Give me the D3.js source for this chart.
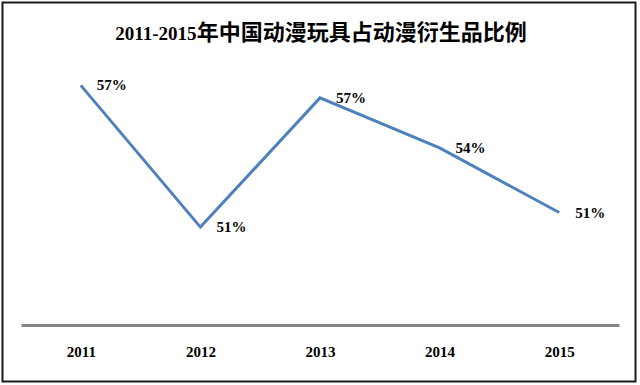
<!DOCTYPE html>
<html>
<head>
<meta charset="utf-8">
<script src="https://cdn.jsdelivr.net/npm/d3@7"></script>
<style>
  html, body { margin: 0; padding: 0; background: #fff; }
  svg { display: block; }
</style>
</head>
<body>
<div id="chart"></div>
<script>
// chart values
var years = ["2011", "2012", "2013", "2014", "2015"];
var shares = [57.4, 50.6, 56.8, 54.4, 51.3];
var titleYears = "2011-2015";
var titleText = "年中国动漫玩具占动漫衍生品比例";

var W = 640, H = 385;
var fontSerif = "'Liberation Serif', 'Times New Roman', serif";
var fontCjk = "'Noto Sans CJK SC', 'Noto Sans', sans-serif";

var svg = d3.select("#chart")
	.append("svg")
	.attr("width", W)
	.attr("height", H);

svg.append("rect")
	.attr("width", W)
	.attr("height", H)
	.attr("fill", "#fff");

// outer frame
svg.append("rect")
	.attr("x", 2.5)
	.attr("y", 2.5)
	.attr("width", 633)
	.attr("height", 379)
	.attr("fill", "none")
	.attr("stroke", "#1a1a1a")
	.attr("stroke-width", 2);

// title
var title = svg.append("text")
	.attr("x", 321)
	.attr("y", 40)
	.attr("text-anchor", "middle")
	.attr("font-weight", "bold")
	.attr("fill", "#000");
title.append("tspan")
	.attr("font-family", fontSerif)
	.attr("font-size", 19)
	.text(titleYears);
title.append("tspan")
	.attr("font-family", fontCjk)
	.attr("font-size", 22)
	.attr("letter-spacing", 0)
	.text(titleText);

var x = d3.scalePoint()
	.domain(years)
	.range([21, 619])
	.padding(0.5);

var y = d3.scaleLinear()
	.domain([46, 59])
	.range([323, 52]);

// x axis
var xAxis = svg.append("g")
	.attr("transform", "translate(0,325)")
	.call(d3.axisBottom(x).tickSize(0).tickPadding(21));
xAxis.select(".domain")
	.attr("stroke", "#858585")
	.attr("stroke-width", 3);
xAxis.selectAll("text")
	.attr("font-family", fontSerif)
	.attr("font-weight", "bold")
	.attr("font-size", 15)
	.attr("fill", "#000");

var data = years.map((d, i) => ({ year: d, value: shares[i] }));

var line = d3.line()
	.x(d => x(d.year))
	.y(d => y(d.value));

svg.append("path")
	.datum(data)
	.attr("d", line)
	.attr("fill", "none")
	.attr("stroke", "#4f81bd")
	.attr("stroke-width", 3)
	.attr("stroke-linejoin", "miter");

svg.selectAll(".lbl")
	.data(data)
	.join("text")
	.attr("class", "lbl")
	.attr("x", d => x(d.year) + 16)
	.attr("y", d => y(d.value) + 5)
	.attr("font-family", fontSerif)
	.attr("font-weight", "bold")
	.attr("font-size", 15)
	.attr("fill", "#000")
	.text(d => Math.round(d.value) + "%");
</script>
</body>
</html>
